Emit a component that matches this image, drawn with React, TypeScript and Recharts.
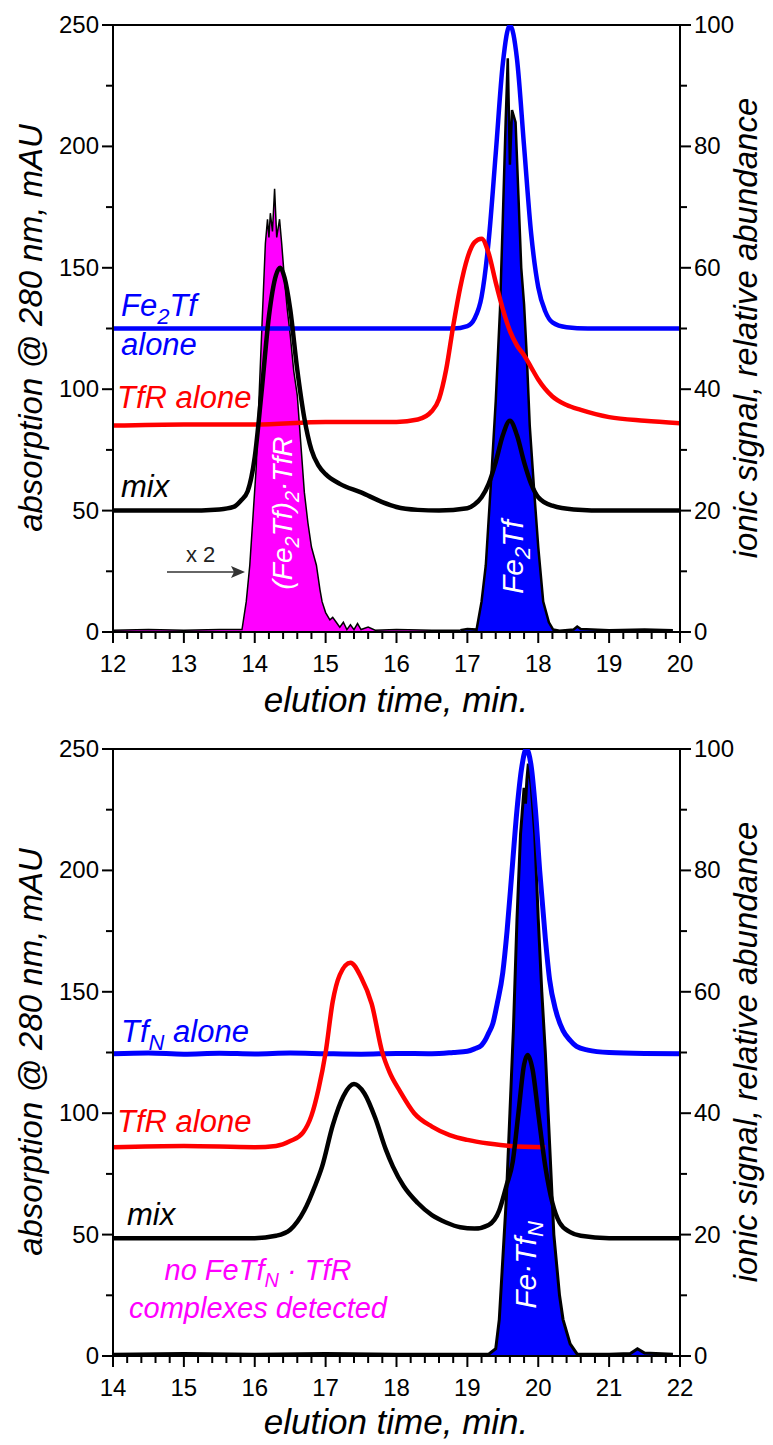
import React from "react";
import { ComposedChart, Line, Area, XAxis, YAxis, ReferenceLine } from "recharts";

const FONT = "'Liberation Sans', Arial, Helvetica, sans-serif";

// ---- axes ----
const TOP_X_TICKS = [
  12, 12.2, 12.4, 12.6, 12.8, 13, 13.2, 13.4, 13.6, 13.8, 14, 14.2, 14.4, 14.6, 14.8,
  15, 15.2, 15.4, 15.6, 15.8, 16, 16.2, 16.4, 16.6, 16.8, 17, 17.2, 17.4, 17.6, 17.8,
  18, 18.2, 18.4, 18.6, 18.8, 19, 19.2, 19.4, 19.6, 19.8, 20,
];
const BOT_X_TICKS = [
  14, 14.2, 14.4, 14.6, 14.8, 15, 15.2, 15.4, 15.6, 15.8, 16, 16.2, 16.4, 16.6, 16.8,
  17, 17.2, 17.4, 17.6, 17.8, 18, 18.2, 18.4, 18.6, 18.8, 19, 19.2, 19.4, 19.6, 19.8,
  20, 20.2, 20.4, 20.6, 20.8, 21, 21.2, 21.4, 21.6, 21.8, 22,
];
const ABS_TICKS = [0, 25, 50, 75, 100, 125, 150, 175, 200, 225, 250];
const ION_TICKS = [0, 10, 20, 30, 40, 50, 60, 70, 80, 90, 100];

// ---- top panel (Fe2Tf + TfR), UV traces in mAU ----
const topFeT = [12, 16.8, 17.0, 17.1, 17.2, 17.3, 17.4, 17.5, 17.6, 17.7, 17.8, 17.9, 18.0, 18.1, 18.2, 18.4, 18.7, 20];
const topFeV = [125, 125, 126, 129, 138, 161, 197, 234, 250, 236, 200, 164, 142, 132, 127.5, 125.5, 125, 125];

const topTfrT = [12, 13, 14, 15, 16, 16.3, 16.5, 16.6, 16.7, 16.8, 16.9, 17.0, 17.1, 17.2, 17.3, 17.4, 17.5, 17.6, 17.7, 17.8, 17.9, 18.0, 18.2, 18.4, 18.6, 19.0, 19.5, 20];
const topTfrV = [85, 85.5, 85.5, 86.5, 86.5, 87.5, 91, 96, 108, 126, 142, 154, 160.5, 162, 156, 144, 133, 124, 118, 114, 109, 104, 97, 93.5, 91.5, 88.5, 87, 86];

const topMixT = [12, 13, 13.5, 13.7, 13.8, 13.9, 14.0, 14.1, 14.2, 14.3, 14.36, 14.42, 14.5, 14.6, 14.7, 14.8, 14.9, 15.0, 15.2, 15.5, 15.8, 16.0, 16.3, 16.6, 17.0, 17.1, 17.2, 17.3, 17.4, 17.5, 17.6, 17.7, 17.8, 17.9, 18.0, 18.2, 18.5, 19, 20];
const topMixV = [50, 50, 50.5, 51.5, 54, 58, 72, 100, 130, 147, 150, 146, 133, 108, 88, 75, 68.5, 65, 61, 57.5, 53.5, 51.5, 50.3, 50, 51, 52.5, 55.5, 61, 70, 81, 87, 81, 70, 61, 55.5, 52, 50.5, 50, 50];

// ion signal (x2), relative abundance %
const topIonMagT = [12, 12.5, 13, 13.5, 13.82, 13.88, 13.93, 14.02, 14.1, 14.15, 14.18, 14.2, 14.22, 14.25, 14.28, 14.31, 14.35, 14.38, 14.42, 14.46, 14.5, 14.55, 14.6, 14.65, 14.7, 14.75, 14.8, 14.87, 14.92, 14.95, 15.0, 15.06, 15.1, 15.15, 15.2, 15.25, 15.3, 15.35, 15.4, 15.45, 15.5, 15.6, 15.7, 16, 16.5, 16.9];
const topIonMagV = [0.3, 0.4, 0.3, 0.4, 0.4, 5, 11, 27, 50, 64, 68, 65, 69, 66, 73, 65, 68, 64, 58, 53, 49, 43, 39, 31, 23, 18, 14, 11, 7, 5, 3.2, 2, 2.4, 1.6, 0.8, 1.6, 0.4, 1.2, 0.4, 1.4, 0.4, 0.8, 0.3, 0.4, 0.3, 0.3];

const topIonBluT = [16.9, 17.0, 17.13, 17.2, 17.26, 17.34, 17.4, 17.46, 17.5, 17.54, 17.57, 17.6, 17.63, 17.68, 17.72, 17.76, 17.8, 17.84, 17.88, 17.95, 18.0, 18.07, 18.15, 18.21, 18.3, 18.5, 18.55, 18.6, 19, 19.5, 19.9];
const topIonBluV = [0.3, 0.5, 0.4, 5, 11, 26, 38, 53, 68, 84, 94.5, 77, 86, 84, 72, 60, 54, 45, 34, 22, 14, 5, 1.6, 0.4, 0.2, 0.4, 0.9, 0.5, 0.3, 0.4, 0.3];

// ---- bottom panel (TfN + TfR) ----
const botTfnT = [14, 14.5, 15, 15.5, 16, 16.5, 17, 17.5, 18, 18.5, 18.8, 19.0, 19.1, 19.2, 19.25, 19.3, 19.36, 19.42, 19.5, 19.56, 19.63, 19.7, 19.77, 19.83, 19.9, 19.96, 20.02, 20.1, 20.16, 20.25, 20.35, 20.45, 20.54, 20.7, 21, 21.5, 22];
const botTfnV = [124.5, 124.8, 124.3, 124.7, 124.4, 124.8, 124.5, 124.3, 124.6, 124.5, 125, 125.5, 126.5, 128, 130, 133, 137, 145, 158, 175, 200, 225, 243, 250, 243, 225, 200, 172, 155, 142, 134, 130, 127.5, 126, 125, 124.6, 124.5];

const botTfrT = [14, 15, 16, 16.3, 16.5, 16.68, 16.8, 16.9, 17.0, 17.1, 17.2, 17.35, 17.5, 17.65, 17.8, 17.9, 18.05, 18.25, 18.5, 18.75, 19.0, 19.3, 19.6, 20.1];
const botTfrV = [86, 86.5, 86, 86.5, 88.5, 92, 99, 110, 125, 146, 157, 162, 156, 145, 125, 117, 109, 100, 94.5, 91, 89, 87.5, 86.5, 86];

const botMixT = [14, 15, 16, 16.3, 16.5, 16.7, 16.85, 16.95, 17.1, 17.25, 17.4, 17.55, 17.7, 17.85, 17.95, 18.1, 18.3, 18.5, 18.7, 18.9, 19.1, 19.3, 19.45, 19.55, 19.64, 19.72, 19.8, 19.85, 19.92, 20.0, 20.1, 20.2, 20.3, 20.45, 20.6, 21, 22];
const botMixV = [48.5, 48.5, 48.5, 49.5, 52, 60, 70, 78, 95, 107, 112, 108, 98, 85, 78, 70, 63, 58, 55, 53, 52.5, 54, 60, 70, 80, 100, 120, 124, 118, 100, 78, 63, 55, 51, 49.5, 48.5, 48.5];

const botIonT = [14, 15, 16, 17, 18, 18.9, 19.3, 19.4, 19.45, 19.5, 19.55, 19.6, 19.65, 19.7, 19.75, 19.8, 19.82, 19.84, 19.86, 19.9, 19.95, 20.0, 20.05, 20.1, 20.16, 20.22, 20.3, 20.35, 20.45, 20.55, 21, 21.3, 21.4, 21.5, 21.9];
const botIonV = [0.3, 0.4, 0.3, 0.4, 0.3, 0.3, 0.3, 1.2, 6, 16, 26, 40, 54, 72, 86, 93.6, 91, 95, 97.6, 94, 86, 72, 60, 50, 35, 20, 10, 6, 2, 0.3, 0.3, 0.4, 1.2, 0.5, 0.3];

const zip = (t: number[], v: number[]) => t.map((x, i) => ({ t: x, v: v[i] }));

const BLUE = "#0000FF";
const RED = "#FF0000";
const MAGENTA = "#FF00FF";

function XTick(props: any) {
  const { x, y, payload } = props;
  const v = payload.value;
  const major = Math.abs(v - Math.round(v)) < 1e-6;
  return (
    <g>
      <line x1={x} y1={y} x2={x} y2={y + (major ? 11 : 7)} stroke="#000" strokeWidth={2} />
      {major && (
        <text x={x} y={y + 40} textAnchor="middle" fontSize={24} fontFamily={FONT} fill="#000">
          {Math.round(v)}
        </text>
      )}
    </g>
  );
}

function LeftTick(props: any) {
  const { x, y, payload } = props;
  const v = payload.value;
  const major = v % 50 === 0;
  return (
    <g>
      <line x1={x - (major ? 11 : 7)} y1={y} x2={x} y2={y} stroke="#000" strokeWidth={2} />
      {major && (
        <text x={x - 14} y={y + 8} textAnchor="end" fontSize={24} fontFamily={FONT} fill="#000">
          {v}
        </text>
      )}
    </g>
  );
}

function RightTick(props: any) {
  const { x, y, payload } = props;
  const v = payload.value;
  const major = v % 20 === 0;
  return (
    <g>
      <line x1={x} y1={y} x2={x + (major ? 11 : 7)} y2={y} stroke="#000" strokeWidth={2} />
      {major && (
        <text x={x + 14} y={y + 8} textAnchor="start" fontSize={24} fontFamily={FONT} fill="#000">
          {v}
        </text>
      )}
    </g>
  );
}

const it = { fontFamily: FONT, fontStyle: "italic" as const };

function Titles({ top, xTitleY }: { top: number; xTitleY: number }) {
  const mid = top + 303;
  return (
    <g>
      <text x={396} y={xTitleY} textAnchor="middle" fontSize={35} {...it}>elution time, min.</text>
      <text transform={`translate(42,${mid}) rotate(-90)`} textAnchor="middle" fontSize={33} {...it}>
        absorption @ 280 nm, mAU
      </text>
      <text transform={`translate(757,${mid}) rotate(-90)`} textAnchor="middle" fontSize={33} {...it}>
        ionic signal, relative abundance
      </text>
    </g>
  );
}

// all annotation text, drawn above both charts in page coordinates
function Notes() {
  return (
    <svg width={773} height={1445} style={{ position: "absolute", left: 0, top: 0, pointerEvents: "none" }}>
      {/* top panel */}
      <text x={121} y={316} fontSize={31} fill={BLUE} {...it}>
        Fe<tspan dy={8} fontSize={22}>2</tspan><tspan dy={-8}>Tf</tspan>
      </text>
      <text x={121} y={355} fontSize={31} fill={BLUE} {...it}>alone</text>
      <text x={117} y={408} fontSize={31} fill={RED} {...it}>TfR alone</text>
      <text x={121} y={497} fontSize={31} fill="#000" {...it}>mix</text>
      <text x={186} y={562} fontSize={22} fontFamily={FONT} fill="#222">x 2</text>
      <line x1={167} y1={572} x2={234} y2={572} stroke="#333" strokeWidth={1.6} />
      <polygon points="245,572 231,566 234,572 231,578" fill="#333" />
      <text transform="translate(292,513) rotate(-90)" textAnchor="middle" fontSize={28} fill="#fff" {...it}>
        (Fe<tspan dy={7} fontSize={20}>2</tspan><tspan dy={-7}>Tf)</tspan>
        <tspan dy={7} fontSize={20}>2</tspan><tspan dy={-7}>·TfR</tspan>
      </text>
      <text transform="translate(523,557) rotate(-90)" textAnchor="middle" fontSize={30} fill="#fff" {...it}>
        Fe<tspan dy={7} fontSize={22}>2</tspan><tspan dy={-7}>Tf</tspan>
      </text>
      <Titles top={25} xTitleY={712} />

      {/* bottom panel */}
      <text x={121} y={1042} fontSize={31} fill={BLUE} {...it}>
        Tf<tspan dy={8} fontSize={22}>N</tspan><tspan dy={-8}> alone</tspan>
      </text>
      <text x={117} y={1132} fontSize={31} fill={RED} {...it}>TfR alone</text>
      <text x={127} y={1225} fontSize={31} fill="#000" {...it}>mix</text>
      <text x={258} y={1280} textAnchor="middle" fontSize={29} fill={MAGENTA} {...it}>
        no FeTf<tspan dy={7} fontSize={20}>N</tspan><tspan dy={-7}> · TfR</tspan>
      </text>
      <text x={258} y={1318} textAnchor="middle" fontSize={29} fill={MAGENTA} {...it}>
        complexes detected
      </text>
      <text transform="translate(536,1265) rotate(-90)" textAnchor="middle" fontSize={30} fill="#fff" {...it}>
        Fe·Tf<tspan dy={7} fontSize={22}>N</tspan>
      </text>
      <Titles top={749} xTitleY={1434} />
    </svg>
  );
}

function Panel(props: {
  height: number;
  top: number;
  xTicks: number[];
  domain: [number, number];
  children: React.ReactNode;
}) {
  const { height, top, xTicks, domain, children } = props;
  return (
    <ComposedChart width={773} height={height} margin={{ top, right: 0, bottom: 0, left: 0 }}>
      <XAxis
        dataKey="t"
        type="number"
        domain={domain}
        ticks={xTicks}
        interval={0}
        allowDataOverflow
        height={height - top - 607}
        axisLine={{ stroke: "#000", strokeWidth: 2 }}
        tickLine={false}
        tickSize={0}
        tickMargin={0}
        tick={<XTick />}
      />
      <YAxis
        yAxisId="L"
        orientation="left"
        type="number"
        domain={[0, 250]}
        ticks={ABS_TICKS}
        interval={0}
        width={113}
        allowDataOverflow
        axisLine={{ stroke: "#000", strokeWidth: 2 }}
        tickLine={false}
        tickSize={0}
        tickMargin={0}
        tick={<LeftTick />}
      />
      <YAxis
        yAxisId="R"
        orientation="right"
        type="number"
        domain={[0, 100]}
        ticks={ION_TICKS}
        interval={0}
        width={93}
        allowDataOverflow
        axisLine={{ stroke: "#000", strokeWidth: 2 }}
        tickLine={false}
        tickSize={0}
        tickMargin={0}
        tick={<RightTick />}
      />
      <ReferenceLine yAxisId="L" y={250} stroke="#000" strokeWidth={2} />
      {children}
    </ComposedChart>
  );
}

export default function App() {
  return (
    <div style={{ position: "absolute", left: 0, top: 0, width: 773, height: 1445, background: "#fff" }}>
      <Panel height={720} top={25} xTicks={TOP_X_TICKS} domain={[12, 20]}>
        <Line yAxisId="L" data={zip(topFeT, topFeV)} dataKey="v" type="monotone" stroke={BLUE} strokeWidth={4.5} dot={false} isAnimationActive={false} />
        <Line yAxisId="L" data={zip(topTfrT, topTfrV)} dataKey="v" type="monotone" stroke={RED} strokeWidth={4.5} dot={false} isAnimationActive={false} />
        <Area yAxisId="R" data={zip(topIonMagT, topIonMagV)} dataKey="v" type="linear" fill={MAGENTA} fillOpacity={1} stroke="#000" strokeWidth={1.5} baseValue={0} isAnimationActive={false} />
        <Area yAxisId="R" data={zip(topIonBluT, topIonBluV)} dataKey="v" type="linear" fill={BLUE} fillOpacity={1} stroke="#000" strokeWidth={2.5} baseValue={0} isAnimationActive={false} />
        <Line yAxisId="L" data={zip(topMixT, topMixV)} dataKey="v" type="monotone" stroke="#000" strokeWidth={4.5} dot={false} isAnimationActive={false} />
      </Panel>
      <Panel height={725} top={29} xTicks={BOT_X_TICKS} domain={[14, 22]}>
        <Line yAxisId="L" data={zip(botTfnT, botTfnV)} dataKey="v" type="monotone" stroke={BLUE} strokeWidth={5} dot={false} isAnimationActive={false} />
        <Line yAxisId="L" data={zip(botTfrT, botTfrV)} dataKey="v" type="monotone" stroke={RED} strokeWidth={4.5} dot={false} isAnimationActive={false} />
        <Area yAxisId="R" data={zip(botIonT, botIonV)} dataKey="v" type="linear" fill={BLUE} fillOpacity={1} stroke="#000" strokeWidth={3} baseValue={0} isAnimationActive={false} />
        <Line yAxisId="L" data={zip(botMixT, botMixV)} dataKey="v" type="monotone" stroke="#000" strokeWidth={4.5} dot={false} isAnimationActive={false} />
      </Panel>
      <Notes />
    </div>
  );
}
